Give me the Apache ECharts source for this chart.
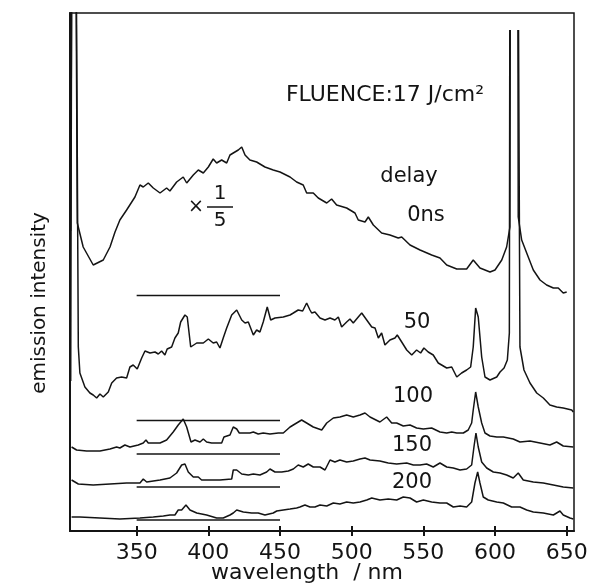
<!DOCTYPE html>
<html>
<head>
<meta charset="utf-8">
<script src="https://cdn.jsdelivr.net/npm/echarts@6/dist/echarts.min.js"></script>
<style>html,body{margin:0;padding:0;background:#fff;}#c{width:592px;height:587px;}</style>
</head>
<body>
<div id="c"></div>
<script>
// wavelength ticks (nm)
const xTicks = [350, 400, 450, 500, 550, 600, 650];
// series names / labels
const delays = ['0ns', '50', '100', '150', '200'];
// zero (reference) level of each trace, drawn from 350 to 450 nm
const zeroLevels = [235.5, 110.5, 77, 44, 11];
const zeroRange = [350, 450];

// emission intensity (arbitrary units, traces offset as in the figure); '-' = pen off-scale gap
const s0ns = [[304.0,300],[304.6,530],[306,'-'],[307.8,530],[308.6,308],[312.7,284],[319.7,266],[326.7,271],[331.4,284],[334.9,299],[338.3,311],[343.0,321],[348.8,334],[352.3,346],[354.6,344],[358.1,348],[361.6,343],[366.3,338],[370.9,343],[373.2,340],[377.9,349],[382.5,354],[384.9,348],[389.5,356],[393.0,361],[396.5,358],[400.0,364],[403.4,372],[405.8,368],[409.3,371],[412.8,368],[415.1,376],[417.4,378],[420.9,381],[423.3,384],[425.6,376],[429.0,371],[433.7,369],[439.5,364],[445.3,361],[450.0,359],[457.0,354],[461.6,349],[466.2,346],[468.6,338],[473.2,338],[476.7,333],[482.6,328],[486.0,332],[489.5,326],[496.5,323],[502.3,318],[504.6,311],[509.3,309],[511.6,314],[515.1,306],[520.9,298],[526.7,296],[532.5,293],[534.9,294],[540.7,286],[547.7,281],[555.8,276],[561.6,273],[566.3,266],[573.3,262],[580.2,262],[584.8,271],[589.5,263],[596.5,259],[600.0,261],[604.7,271],[608.1,284],[610.4,304],[610.6,501],[613,'-'],[616.0,501],[616.2,314],[618.6,291],[622.1,278],[626.7,261],[631.4,251],[636.0,246],[640.7,243],[644.1,243],[647.6,238],[650.0,239]];

const s50 = [[304.0,150],[304.6,530],[306,'-'],[308.0,530],[309.3,184],[310.4,158],[313.9,144],[317.4,138],[319.7,136],[322.1,133],[324.4,137],[326.7,134],[330.2,139],[332.6,148],[336.0,153],[339.5,154],[343.0,153],[345.3,164],[347.6,166],[350.4,162],[353.5,173],[355.8,180],[359.3,178],[362.8,179],[365.1,177],[367.4,180],[369.7,176],[371.3,182],[374.4,184],[376.7,193],[379.0,198],[380.7,209],[383.7,216],[385.3,214],[387.7,184],[391.9,188],[396.5,188],[400.0,192],[403.4,188],[405.8,189],[408.1,183],[410.4,193],[412.8,203],[416.3,216],[419.8,221],[423.3,211],[425.6,208],[427.9,209],[431.4,196],[433.7,201],[436.0,199],[438.3,209],[441.1,224],[443.5,211],[446.5,213],[452.3,214],[457.0,216],[459.3,218],[462.7,221],[465.8,220],[468.6,228],[470.9,221],[472.1,218],[474.4,219],[477.9,213],[481.4,211],[484.9,213],[488.3,211],[490.7,214],[493.0,204],[496.5,209],[498.8,212],[501.1,208],[504.6,214],[507.0,218],[510.5,211],[514.0,204],[516.3,203],[518.6,193],[520.9,198],[523.2,186],[526.7,191],[530.2,193],[531.8,196],[534.9,189],[538.4,181],[541.9,176],[545.3,181],[548.1,178],[550.4,183],[553.4,179],[556.9,176],[560.4,168],[566.3,163],[569.8,164],[573.3,154],[576.7,158],[580.2,161],[583.0,164],[584.8,184],[586.5,223],[588.3,214],[590.7,174],[593.0,154],[596.5,151],[601.2,154],[603.5,159],[606.3,163],[608.6,171],[610.0,198],[610.3,501],[613,'-'],[616.4,501],[617.4,184],[620.2,161],[624.4,148],[629.1,138],[633.7,133],[638.3,126],[643.0,124],[647.6,123],[653.5,121],[654.6,119]];

const s100 = [[304.6,84],[308.1,81],[315.1,80],[324.4,80],[331.4,82],[336.0,84],[338.3,83],[341.8,86],[345.3,84],[351.1,86],[354.6,88],[356.5,91],[358.1,88],[366.3,88],[370.9,91],[375.5,99],[379.0,106],[382.5,112],[384.9,104],[387.9,89],[390.7,91],[394.2,89],[396.5,92],[398.8,89],[402.3,88],[406.9,88],[409.3,88],[410.9,94],[415.1,96],[417.4,104],[419.8,102],[421.6,98],[425.6,98],[429.0,98],[431.4,99],[434.8,97],[438.3,98],[443.0,97],[448.8,98],[452.3,98],[457.0,104],[461.6,108],[465.1,111],[468.6,108],[473.2,104],[479.1,101],[482.6,108],[487.2,113],[491.8,114],[496.5,116],[501.1,114],[505.8,116],[509.3,118],[512.8,114],[519.7,109],[524.4,114],[527.9,108],[531.4,108],[536.0,105],[540.7,106],[545.3,103],[550.0,102],[555.8,103],[561.6,99],[566.3,98],[569.8,99],[573.3,98],[577.9,98],[581.3,101],[583.7,108],[584.8,121],[586.5,139],[588.3,124],[590.7,108],[593.0,98],[596.5,95],[601.2,94],[605.8,94],[612.7,92],[617.4,89],[624.4,90],[631.4,88],[638.3,86],[643.0,89],[647.6,85],[654.6,84]];

const s150 = [[304.6,51],[309.3,47],[319.7,46],[331.4,47],[343.0,48],[352.3,48],[354.6,52],[357.0,49],[366.3,51],[373.2,53],[377.9,58],[381.4,66],[383.7,67],[386.0,59],[389.5,54],[393.0,54],[395.3,51],[401.1,51],[408.1,51],[416.3,52],[417.4,61],[419.8,61],[423.3,57],[427.9,56],[431.4,57],[436.0,56],[440.7,59],[443.0,62],[446.5,59],[451.2,59],[455.8,60],[459.3,62],[462.7,66],[466.2,64],[469.7,67],[473.2,64],[477.9,64],[481.4,61],[484.9,71],[488.3,69],[491.8,71],[496.5,69],[501.1,70],[505.8,72],[509.3,73],[512.8,71],[519.7,70],[525.5,68],[531.4,67],[538.4,68],[543.0,66],[547.7,66],[552.3,67],[556.9,64],[561.6,68],[566.3,64],[570.9,63],[575.6,61],[580.2,62],[583.7,66],[585.3,84],[586.7,98],[588.3,84],[590.7,69],[594.2,63],[598.8,59],[603.5,58],[608.1,56],[612.7,53],[616.2,58],[619.7,51],[626.7,49],[633.7,48],[640.7,46],[647.6,44],[654.6,43]];

const s200 = [[304.6,14],[310.4,14],[324.4,13],[338.3,12],[352.3,13],[361.6,14],[368.6,15],[373.2,16],[376.7,16],[379.0,21],[381.4,21],[384.4,26],[387.2,21],[391.9,18],[398.8,16],[405.8,13],[410.4,13],[415.1,16],[417.4,18],[419.8,21],[424.4,19],[430.2,18],[434.8,18],[439.5,16],[445.3,18],[447.7,20],[452.3,21],[457.0,22],[461.6,23],[463.9,24],[467.4,26],[470.9,24],[474.4,24],[477.9,26],[482.6,25],[487.2,28],[491.8,27],[496.5,29],[501.1,28],[505.8,29],[510.5,31],[514.0,33],[519.7,31],[525.5,32],[531.4,31],[536.0,34],[540.7,33],[545.3,29],[550.0,31],[555.8,29],[561.6,28],[566.3,28],[570.9,24],[575.6,25],[580.2,24],[583.7,29],[586.0,48],[587.9,59],[589.5,48],[591.8,34],[595.3,31],[601.2,29],[605.8,28],[611.6,24],[617.4,24],[622.1,21],[626.7,19],[633.7,18],[640.7,16],[645.3,20],[647.6,16],[652.3,13],[654.6,12]];

const traces = [s0ns, s50, s100, s150, s200];

const INK = '#141414';
const FONT = 'DejaVu Sans';

const series = [];
traces.forEach((d, i) => {
  series.push({
    name: delays[i], type: 'line', data: d, symbol: 'none', clip: true,
    connectNulls: false, lineStyle: { color: INK, width: 1.5 }, silent: true
  });
  series.push({
    name: delays[i] + ' zero', type: 'line',
    data: [[zeroRange[0], zeroLevels[i]], [zeroRange[1], zeroLevels[i]]],
    symbol: 'none', lineStyle: { color: INK, width: 1.5 }, silent: true
  });
});

function txt(x, y, s, size, align) {
  return { type: 'text', x: x, y: y, silent: true,
    style: { text: s, fill: INK, font: size + 'px "' + FONT + '"', textAlign: align || 'center', textVerticalAlign: 'middle' } };
}

const chart = echarts.init(document.getElementById('c'), null, { renderer: 'canvas' });
chart.setOption({
  animation: false,
  backgroundColor: '#fff',
  grid: { left: 70, right: 18, top: 13, bottom: 56, show: true, borderColor: INK, borderWidth: 1.5,
          backgroundColor: 'transparent', containLabel: false, outerBoundsMode: 'none' },
  xAxis: [{
    type: 'value', min: 303.5, max: 655.1, position: 'bottom',
    axisLine: { show: true, onZero: false, lineStyle: { color: INK, width: 2 } },
    axisTick: { show: true, length: 5, customValues: xTicks, lineStyle: { color: INK, width: 2 } },
    axisLabel: { show: true, customValues: xTicks, margin: 11, color: INK, fontFamily: FONT, fontSize: 22 },
    splitLine: { show: false },
    name: 'wavelength  / nm', nameLocation: 'middle', nameGap: 31, nameMoveOverlap: false,
    nameTextStyle: { color: INK, fontFamily: FONT, fontSize: 22, padding: [0, 30, 0, 0] }
  }, {
    type: 'value', min: 303.5, max: 655.1, position: 'bottom',
    axisLine: { show: false, onZero: false },
    axisTick: { show: true, inside: true, length: 5, customValues: xTicks, lineStyle: { color: INK, width: 2 } },
    axisLabel: { show: false }, splitLine: { show: false }
  }],
  yAxis: {
    type: 'value', min: 0, max: 518,
    axisLine: { show: true, onZero: false, lineStyle: { color: INK, width: 2 } },
    axisTick: { show: false }, axisLabel: { show: false }, splitLine: { show: false }
  },
  series: series,
  graphic: [
    { type: 'text', x: 40, y: 303, rotation: Math.PI / 2, silent: true,
      style: { text: 'emission intensity', fill: INK, font: '20px "' + FONT + '"', textAlign: 'center', textVerticalAlign: 'middle' } },
    txt(385, 95, 'FLUENCE:17 J/cm²', 22),
    txt(409, 177, 'delay', 21),
    txt(426, 216, '0ns', 21),
    txt(196, 207, '×', 19),
    txt(220, 194, '1', 20),
    { type: 'line', silent: true, shape: { x1: 207, y1: 207, x2: 233, y2: 207 }, style: { stroke: INK, lineWidth: 1.5 } },
    txt(220, 221, '5', 20),
    txt(417, 323, '50', 21),
    txt(413, 397, '100', 21),
    txt(412, 446, '150', 21),
    txt(412, 483, '200', 21)
  ]
});
</script>
</body>
</html>
